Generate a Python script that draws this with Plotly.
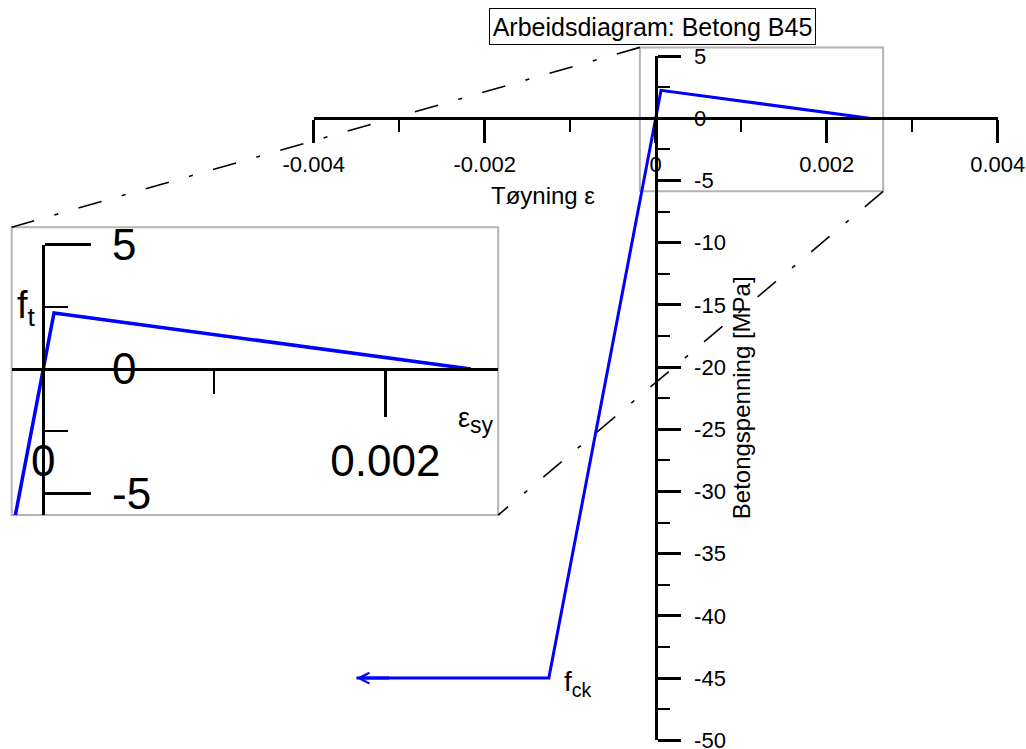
import plotly.graph_objects as go

W, H = 1026, 749
FONT = "Liberation Sans, Arial, sans-serif"
BLUE = "#0000FF"

# Working diagram for concrete B45 (compression negative)
strain = [-0.0035, -0.00125, 0.0000625, 0.0025]
stress = [-45.0, -45.0, 2.25, 0.0]

# Main axes ticks
x_ticks = [-0.004, -0.002, 0.0, 0.002, 0.004]
x_tick_labels = ["-0.004", "-0.002", "0", "0.002", "0.004"]
x_minor_ticks = [-0.003, -0.001, 0.001, 0.003]
y_ticks = [-50, -45, -40, -35, -30, -25, -20, -15, -10, -5, 0, 5]
y_tick_labels = ["-50", "-45", "-40", "-35", "-30", "-25", "-20", "-15", "-10", "-5", "0", "5"]
y_minor_ticks = [-47.5, -42.5, -37.5, -32.5, -27.5, -22.5, -17.5, -12.5, -7.5, -2.5, 2.5]

# Zoomed detail window
zoom_x = [-0.000185, 0.00266]
zoom_y = [-5.87, 5.7]
inset_x_ticks = [0.0, 0.002]
inset_x_tick_labels = ["0", "0.002"]
inset_x_minor_ticks = [0.001]
inset_y_ticks = [-5, 0, 5]
inset_y_tick_labels = ["-5", "0", "5"]
inset_y_minor_ticks = [-2.5, 2.5]

# ---- pixel geometry -------------------------------------------------------
# main axes: origin position and pixels per unit
MX0, MY0 = 655.7, 118.3
MSX, MSY = 85500.0, 12.44
# inset axes: twice the magnification
IX0, IY0 = 43.3, 369.0
ISX, ISY = 2 * MSX, 2 * MSY


def px(v):
    return v / W


def py(v):
    return 1 - v / H


def main_px(x, y):
    return MX0 + x * MSX, MY0 - y * MSY


def inset_px(x, y):
    return IX0 + x * ISX, IY0 - y * ISY


fig = go.Figure()

fig.add_trace(go.Scatter(x=strain, y=stress, mode="lines",
                         line=dict(color=BLUE, width=3),
                         xaxis="x", yaxis="y", hoverinfo="skip"))
fig.add_trace(go.Scatter(x=strain, y=stress, mode="lines",
                         line=dict(color=BLUE, width=3.5),
                         xaxis="x2", yaxis="y2", hoverinfo="skip"))

axis_common = dict(showgrid=False, zeroline=False, showline=True,
                   linecolor="black", ticks="outside", tickcolor="black",
                   automargin=False, fixedrange=True, tickmode="array",
                   ticklabeloverflow="allow")

# main axes
x_lo = main_px(x_ticks[0], 0)[0]
x_hi = main_px(x_ticks[-1], 0)[0]
y_bot = main_px(0, y_ticks[0])[1]
y_top = main_px(0, y_ticks[-1])[1]

xaxis = dict(axis_common, domain=[px(x_lo), px(x_hi)],
             range=[x_ticks[0], x_ticks[-1]],
             anchor="free", position=py(MY0), side="bottom",
             tickvals=x_ticks, ticktext=x_tick_labels,
             linewidth=3, ticklen=23, tickwidth=2.5, ticklabelstandoff=2,
             tickfont=dict(family=FONT, size=22, color="black"),
             minor=dict(tickmode="array", tickvals=x_minor_ticks, ticks="outside",
                        ticklen=12, tickwidth=2, tickcolor="black", showgrid=False))
yaxis = dict(axis_common, domain=[py(y_bot), py(y_top)],
             range=[y_ticks[0], y_ticks[-1]],
             anchor="free", position=px(MX0), side="right",
             tickvals=y_ticks, ticktext=y_tick_labels,
             linewidth=3, ticklen=23, tickwidth=2.5, ticklabelstandoff=9,
             tickfont=dict(family=FONT, size=22, color="black"),
             minor=dict(tickmode="array", tickvals=y_minor_ticks, ticks="outside",
                        ticklen=12, tickwidth=2, tickcolor="black", showgrid=False))

# inset axes
ix_lo = inset_px(zoom_x[0], 0)[0]
ix_hi = inset_px(zoom_x[1], 0)[0]
iy_bot = inset_px(0, zoom_y[0])[1]
iy_top = inset_px(0, zoom_y[1])[1]
iy_axis_top = inset_px(0, inset_y_ticks[-1])[1]

xaxis2 = dict(axis_common, domain=[px(ix_lo), px(ix_hi)], range=zoom_x,
              anchor="free", position=py(IY0), side="bottom",
              tickvals=inset_x_ticks, ticktext=inset_x_tick_labels,
              linewidth=3, ticklen=46, tickwidth=2.5, ticklabelstandoff=6,
              tickfont=dict(family=FONT, size=44, color="black"),
              minor=dict(tickmode="array", tickvals=inset_x_minor_ticks, ticks="outside",
                         ticklen=23, tickwidth=2, tickcolor="black", showgrid=False))
yaxis2 = dict(axis_common, domain=[py(iy_bot), py(iy_axis_top)],
              range=[zoom_y[0], inset_y_ticks[-1]],
              anchor="free", position=px(IX0), side="right",
              tickvals=inset_y_ticks, ticktext=inset_y_tick_labels,
              linewidth=3, ticklen=46, tickwidth=2.5, ticklabelstandoff=12,
              tickfont=dict(family=FONT, size=44, color="black"),
              minor=dict(tickmode="array", tickvals=inset_y_minor_ticks, ticks="outside",
                         ticklen=23, tickwidth=2, tickcolor="black", showgrid=False))

# zoom frames and connectors
gx0, gy0 = main_px(zoom_x[0], zoom_y[1])
gx1, gy1 = main_px(zoom_x[1], zoom_y[0])
shapes = [
    dict(type="rect", xref="paper", yref="paper",
         x0=px(gx0), x1=px(gx1), y0=py(gy1), y1=py(gy0),
         line=dict(color="#b4b4b4", width=2), layer="below"),
    dict(type="rect", xref="paper", yref="paper",
         x0=px(ix_lo), x1=px(ix_hi), y0=py(iy_bot), y1=py(iy_top),
         line=dict(color="#b4b4b4", width=2), layer="below"),
    dict(type="line", xref="paper", yref="paper",
         x0=px(gx0), y0=py(gy0), x1=px(ix_lo), y1=py(iy_top),
         line=dict(color="black", width=1.6, dash="24px,21px,4px,21px")),
    dict(type="line", xref="paper", yref="paper",
         x0=px(gx1), y0=py(gy1), x1=px(ix_hi), y1=py(iy_bot),
         line=dict(color="black", width=1.6, dash="24px,21px,4px,21px")),
]

annotations = [
    # title box
    dict(text="Arbeidsdiagram: Betong B45", xref="paper", yref="paper",
         x=px(652.7), y=py(26.7), xanchor="center", yanchor="middle",
         showarrow=False, font=dict(family=FONT, size=25, color="black"),
         bordercolor="black", borderwidth=1, borderpad=1, bgcolor="white",
         width=323, height=33),
    # axis titles
    dict(text="Tøyning ε", xref="paper", yref="paper",
         x=px(542.5), y=py(195), xanchor="center", yanchor="middle",
         showarrow=False, font=dict(family=FONT, size=24, color="black")),
    dict(text="Betongspenning [MPa]", xref="paper", yref="paper",
         x=px(741.7), y=py(397.5), xanchor="center", yanchor="middle",
         textangle=-90, showarrow=False,
         font=dict(family=FONT, size=24, color="black")),
    # arrow at the end of the compression branch
    dict(text="", x=strain[0], y=stress[0], xref="x", yref="y",
         ax=strain[0] + 0.0004, ay=stress[0], axref="x", ayref="y",
         showarrow=True, arrowhead=5, arrowsize=0.7, arrowwidth=3,
         arrowcolor=BLUE),
    # point labels
    dict(text="f<sub>ck</sub>", x=strain[1], y=stress[1], xref="x", yref="y",
         xanchor="left", yanchor="middle", xshift=13, yshift=-5,
         showarrow=False, font=dict(family=FONT, size=28, color="black")),
    dict(text="f<sub>t</sub>", x=0, y=stress[2], xref="x2", yref="y2",
         xanchor="right", yanchor="middle", xshift=-5, yshift=5,
         showarrow=False, font=dict(family=FONT, size=38, color="black")),
    dict(text="ε<sub><span style=\"font-size:23px\">sy</span></sub>",
         x=strain[3], y=stress[3], xref="x2", yref="y2",
         xanchor="left", yanchor="middle", xshift=-15, yshift=-51,
         showarrow=False, font=dict(family=FONT, size=27, color="black")),
]

fig.update_layout(
    width=W, height=H,
    margin=dict(l=0, r=0, t=0, b=0, pad=0),
    paper_bgcolor="white", plot_bgcolor="rgba(0,0,0,0)",
    showlegend=False, template="none",
    xaxis=xaxis, yaxis=yaxis, xaxis2=xaxis2, yaxis2=yaxis2,
    shapes=shapes, annotations=annotations,
    font=dict(family=FONT, color="black"),
)

fig.write_html("out.html", config=dict(displayModeBar=False))
